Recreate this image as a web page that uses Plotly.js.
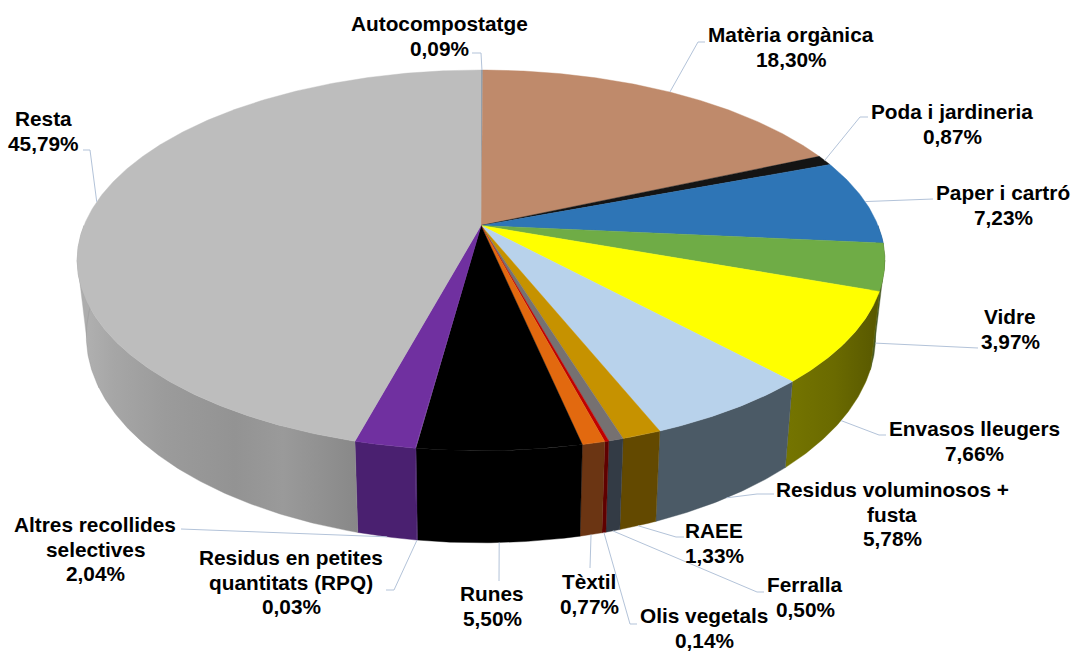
<!DOCTYPE html>
<html><head><meta charset="utf-8">
<script src="https://cdn.plot.ly/plotly-3.0.1.min.js"></script>
<style>html,body{margin:0;padding:0;background:#fff}#c{width:1072px;height:652px}</style>
</head><body><div id="c"></div>
<script>
// ---- data (percent, clockwise from 12 o'clock)
const categories = ["Autocompostatge","Matèria orgànica","Poda i jardineria","Paper i cartró","Vidre","Envasos lleugers","Residus voluminosos + fusta","RAEE","Ferralla","Olis vegetals","Tèxtil","Runes","Residus en petites quantitats (RPQ)","Altres recollides selectives","Resta"];
const values = [0.09,18.30,0.87,7.23,3.97,7.66,5.78,1.33,0.50,0.14,0.77,5.50,0.03,2.04,45.79];
const valueLabels = ["0,09%","18,30%","0,87%","7,23%","3,97%","7,66%","5,78%","1,33%","0,50%","0,14%","0,77%","5,50%","0,03%","2,04%","45,79%"];
const labelLines = [["Autocompostatge"],["Matèria orgànica"],["Poda i jardineria"],["Paper i cartró"],["Vidre"],["Envasos lleugers"],["Residus voluminosos +","fusta"],["RAEE"],["Ferralla"],["Olis vegetals"],["Tèxtil"],["Runes"],["Residus en petites","quantitats (RPQ)"],["Altres recollides","selectives"],["Resta"]];

// ---- styles
const topColors  = ["#8c9aa8","#BF8A6B","#141414","#2E75B6","#6FAC46","#FFFF00","#B8D2EB","#C69200","#767171","#C00000","#E2690F","#000000","#7030A0","#7030A0","#BDBDBD"];
const sideColors = ["#5a6570","#7a5a40","#0a0a0a","#1c4a75","#4a5a24","#6e6e00","#4B5A66","#634900","#333B45","#600000","#6B3513","#000000","#4A2070","#4A2070","#939393"];
const restaGradient = [[0,"#b2b2b2"],[0.12,"#a6a6a6"],[0.3,"#9b9b9b"],[0.55,"#939393"],[0.72,"#9a9a9a"],[1,"#878787"]];
const envasosGradient = [[0,"#757500"],[0.5,"#6a6a00"],[1,"#555500"]];

// ---- label placement (pixels): centre x, centre y, elbow points
const labelPos = [[439,36],[791,47],[952,124],[1003,205],[1010,329],[974,441],[892,514],[714,543],[805,597],[704,628],[589,594],[492,606],[291,582],[95,549],[43,131]];
const linePitch = 24.5;
const elbows = [
 [[472,53],[481,53]],[[705,42],[698,42]],[[868,117],[860,117]],[[933,199]],[[978,348]],
 [[886,435],[879,435]],[[774,494],[757,494]],[[684,537],[676,537]],[[764,592],[757,592]],
 [[637,624],[630,624]],[[590,568]],[[499,581]],[[386,590],[394,590]],[[181,529]],[[83,150],[90,150]]
];

// ---- projection of the tilted disc
const G = {cx:481, k:0.183, top:{A:397,B:184,cy:225.5}, bot:{A:388,B:200,cy:298}};
function proj(deg, plane){
  const t = deg*Math.PI/180, u = Math.sin(t), v = Math.cos(t), w = 1+G.k*v;
  return [G.cx+plane.A*u/w, plane.cy-plane.B*v/w];
}
function arc(a,b,plane){
  const n = Math.max(2,Math.ceil(Math.abs(b-a)*2)), out=[];
  for(let i=0;i<=n;i++) out.push(proj(a+(b-a)*i/n,plane));
  return out;
}
const total = values.reduce((s,v)=>s+v,0);
let acc = 0;
const spans = values.map(v=>{const s=[acc/total*360,(acc+v)/total*360]; acc+=v; return s;});

const traces = [];
function poly(pts,color,extra){
  traces.push(Object.assign({type:"scatter",mode:"lines",x:pts.map(p=>p[0]),y:pts.map(p=>p[1]),
    fill:"toself",fillcolor:color,line:{width:0.4,color:color},hoverinfo:"skip",showlegend:false},extra||{}));
}
// silhouette fillers: the wall's tangent edge between the two rims
const tangent = Math.acos(-G.k)*180/Math.PI;
function filler(a,b,color){
  const pts=[proj(a,G.top),proj(a,G.bot),proj(b,G.bot),proj(b,G.top)]; pts.push(pts[0]);
  poly(pts,color);
}
filler(tangent, tangent+9, sideColors[4]);
filler(360-tangent, 360-tangent-14, "#adadad");
// side walls (only the part facing the viewer)
spans.forEach((s,i)=>{
  const a=Math.max(s[0],90), b=Math.min(s[1],270);
  if(b<=a) return;
  const pts = arc(a,b,G.top).concat(arc(a,b,G.bot).reverse());
  pts.push(pts[0]);
  let extra;
  if(categories[i]==="Resta") extra={fillgradient:{type:"horizontal",colorscale:restaGradient,start:80,stop:362}};
  if(categories[i]==="Envasos lleugers") extra={fillgradient:{type:"horizontal",colorscale:envasosGradient,start:785,stop:885}};
  poly(pts,sideColors[i],extra);
});
// top faces
spans.forEach((s,i)=>{
  const c=[G.cx,G.top.cy];
  poly([c].concat(arc(s[0],s[1],G.top)).concat([c]),topColors[i]);
});
// leader lines: from the label elbow to the slice's mid-angle on the rim
spans.forEach((s,i)=>{
  const m=(s[0]+s[1])/2;
  const end=proj(m,(m>90&&m<270)?G.bot:G.top);
  const pts=elbows[i].concat([end]);
  traces.push({type:"scatter",mode:"lines",x:pts.map(p=>p[0]),y:pts.map(p=>p[1]),
    line:{width:1,color:"#B3C3D9"},hoverinfo:"skip",showlegend:false});
});

const annotations = [];
categories.forEach((c,i)=>{
  const lines = labelLines[i].concat([valueLabels[i]]);
  lines.forEach((t,j)=>annotations.push({
    xref:"x",yref:"y",x:labelPos[i][0],y:labelPos[i][1]+(j-(lines.length-1)/2)*linePitch,
    xanchor:"center",yanchor:"middle",align:"center",showarrow:false,text:"<b>"+t+"</b>",
    font:{family:"Liberation Sans, Arial, sans-serif",size:20.8,color:"#000"}
  }));
});

Plotly.newPlot("c",traces,{
  width:1072,height:652,margin:{l:0,r:0,t:0,b:0},paper_bgcolor:"#fff",plot_bgcolor:"#fff",showlegend:false,
  xaxis:{range:[0,1072],visible:false,fixedrange:true},
  yaxis:{range:[652,0],visible:false,fixedrange:true},
  annotations
},{displayModeBar:false,staticPlot:true});
</script></body></html>
